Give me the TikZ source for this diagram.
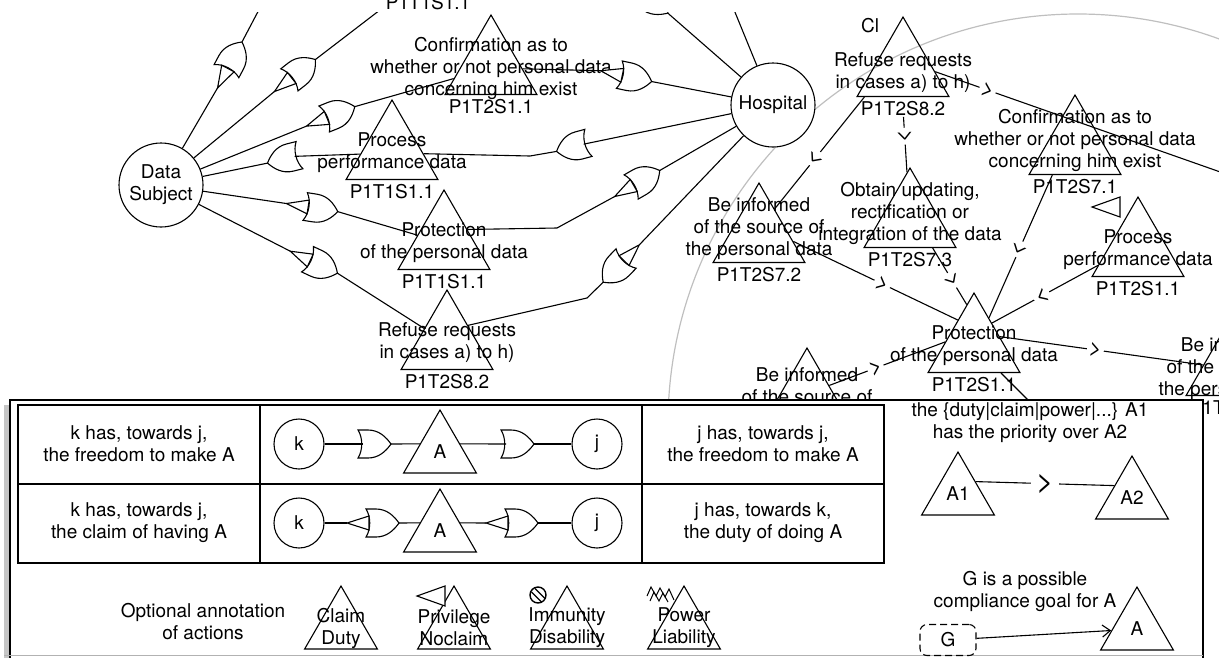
\documentclass[tikz,border=0pt]{standalone}
\usepackage{fontspec}
\setmainfont{TeX Gyre Heros}
\usetikzlibrary{shapes.geometric,arrows.meta}

\tikzset{
  actor/.style={circle,draw,fill=white,minimum size=84pt,inner sep=0pt,align=center},
  role/.style={circle,draw,fill=white,minimum size=50pt,inner sep=0pt},
  act/.style={regular polygon,regular polygon sides=3,draw,minimum size=106pt,inner sep=0pt},
  smallact/.style={act,minimum size=84pt},
  lbl/.style={align=center,inner sep=0pt},
  prio/.style={sloped,allow upside down,fill=white,inner sep=2pt,font=\fontsize{22}{22}\selectfont},
  orgate/.pic={
    \draw[fill=white] (-16,14) .. controls (-11,6) and (-11,-6) .. (-16,-14)
      -- (-6,-14) .. controls (5,-14) and (12,-7) .. (17,0)
      .. controls (12,7) and (5,14) .. (-6,14) -- cycle;
    \coordinate (-in) at (-11,0);
    \coordinate (-out) at (17,0);
  },
  claimgate/.pic={
    \draw[fill=white] (-16,14) .. controls (-11,6) and (-11,-6) .. (-16,-14)
      -- (-6,-14) .. controls (5,-14) and (12,-7) .. (17,0)
      .. controls (12,7) and (5,14) .. (-6,14) -- cycle;
    \draw[fill=white] (-13,7) -- (-13,-7) -- (-35,0) -- cycle;
    \coordinate (-in) at (-35,0);
    \coordinate (-out) at (17,0);
  },
  privmark/.pic={\draw[fill=white] (0,-10) -- (0,10) -- (-28,0) -- cycle;}
}

% action: triangle, its text and its id below
\newcommand\actnode[5][0pt]{%
  \node[act] (#2) at (#3) {};
  \node[lbl,yshift=#1] (#2-txt) at (#2.center) {#4};
  \node[lbl] (#2-id) at ([yshift=-39pt]#2.center) {#5};
}
\newcommand\legendact[3]{%
  \node[smallact] (#1) at (#2) {};
  \node[lbl] (#1-txt) at (#1.center) {#3};
}

\begin{document}
\begin{tikzpicture}[x=1pt,y=-1pt,line width=1.1pt,font=\fontsize{19}{22}\selectfont]
\useasboundingbox (0,0) rectangle (1219,657);

\node[lbl] (top-id) at (428,3) {P1T1S1.1};

\begin{scope}
\clip (0,12) rectangle (1219,657);
\draw[gray!50,line width=1.2pt] (1078,424) circle[radius=410pt];

\node[actor] (ds) at (161,185) {Data\\Subject};
\node[actor] (hosp) at (773,105) {Hospital};

% left part
\actnode{conf1}{491,68}{Confirmation as to\\whether or not personal data\\concerning him exist}{P1T2S1.1}
\actnode{proc1}{392,153}{Process\\performance data}{P1T1S1.1}
\actnode{prot1}{444,243}{Protection\\of the personal data}{P1T1S1.1}
\actnode{refuse1}{447,343}{Refuse requests\\in cases a) to h)}{P1T2S8.2}

\pic[rotate=62] (ga) at (234,57) {claimgate};
\pic[rotate=38] (gb) at (302,70) {claimgate};
\pic[rotate=22] (gc) at (339,113) {claimgate};
\pic[rotate=194] (gd) at (284,159) {orgate};
\pic[rotate=-9] (ge) at (321,209) {claimgate};
\pic[rotate=-25] (gf) at (322,266) {claimgate};
\pic[rotate=-12] (gg) at (635,78) {claimgate};
\pic[rotate=195] (gh) at (573,147) {orgate};
\pic[rotate=30] (gi) at (645,179) {claimgate};
\pic[rotate=226] (gj) at (615,270) {claimgate};
\pic[rotate=-41] (gk) at (655,2) {orgate};

\draw (ds) -- (ga-in);
\draw (ga-out) -- (262,4);
\draw (ds) -- (gb-in);
\draw (gb-out) -- (393,0);
\draw (ds) -- (gc-in);
\draw (gc-out) -- (conf1);
\draw (proc1) -- (gd-in);
\draw (gd-out) -- (ds);
\draw (ds) -- (ge-in);
\draw (ge-out) -- (prot1);
\draw (ds) -- (gf-in);
\draw (gf-out) -- (refuse1);

\draw (conf1) -- (gg-in);
\draw (gg-out) -- (hosp);
\draw (hosp) -- (gh-in);
\draw (gh-out) -- (530,156) -- (proc1);
\draw (prot1.30) -- (557,228) -- (gi-in);
\draw (gi-out) -- (hosp);
\draw (hosp) -- (gj-in);
\draw (gj-out) -- (587,298) -- (refuse1.40);
\draw (gk-out) -- (hosp);
\draw (hosp) -- (730,0);

% right part
\node (cl) at (870,26) {Cl};
\actnode[-3pt]{refuse2}{903,70}{Refuse requests\\in cases a) to h)}{P1T2S8.2}
\actnode[8pt]{conf2}{1075,148}{Confirmation as to\\whether or not personal data\\concerning him exist}{P1T2S7.1}
\actnode[8pt]{upd}{910,221}{Obtain updating,\\rectification or\\integration of the data}{P1T2S7.3}
\actnode[7pt]{inf1}{759,236}{Be informed\\of the source of\\the personal data}{P1T2S7.2}
\actnode{proc2}{1138,250}{Process\\performance data}{P1T2S1.1}
\actnode{prot2}{974,346}{Protection\\of the personal data}{P1T2S1.1}
\actnode[15pt]{inf2}{807,401}{Be informed\\of the source of}{}
\actnode{inf3}{1232,369}{Be informed\\of the source of\\the personal data}{P1T2S7.2}
\pic at (1120,207) {privmark};

\draw (refuse2.-3) -- node[prio,pos=.18]{>} (1226,174);
\draw (refuse2-id) -- node[prio,pos=.35]{>} (upd);
\draw (refuse2.-145) -- node[prio,pos=.55]{>} (inf1.60);
\draw (inf1.-9) -- node[prio,pos=.54]{>} (prot2.122);
\draw (upd.-50) -- node[prio,pos=.57]{>} (prot2.100);
\draw (conf2.-130) -- node[prio,pos=.52]{>} (prot2.62);
\draw (proc2.201) -- node[prio,pos=.53]{>} (prot2.52);
\draw (inf2.35) -- node[prio,pos=.4]{>} (prot2.172);
\draw (prot2.20) -- node[prio,pos=.47]{>} (inf3);
\draw (prot2) -- (1040,412);
\end{scope}

% legend
\fill[gray!45] (4,405) rectangle (1197,663);
\draw[fill=white] (10,400) rectangle (1203,660);
\draw[gray!60] (4,655.5) -- (1203,655.5);
\draw (18,405) rectangle (884,563);
\draw (18,484) -- (884,484);
\draw (260,405) -- (260,563);
\draw (642,405) -- (642,563);

\node[lbl] (row1-left) at (139,444) {k has, towards j,\\the freedom to make A};
\node[lbl] (row1-right) at (763,444) {j has, towards j,\\the freedom to make A};
\node[lbl] (row2-left) at (139,523) {k has, towards j,\\the claim of having A};
\node[lbl] (row2-right) at (763,523) {j has, towards k,\\the duty of doing A};

\node[role] (k1) at (299,444) {k};
\node[role] (j1) at (597,444) {j};
\legendact{a1}{440,452}{A}
\pic (lg1) at (374,444) {orgate};
\pic (lg2) at (517,444) {orgate};
\draw (k1) -- (lg1-in);
\draw (lg1-out) -- (a1.158);
\draw (a1.22) -- (lg2-in);
\draw (lg2-out) -- (j1);

\node[role] (k2) at (299,523) {k};
\node[role] (j2) at (597,523) {j};
\legendact{a2}{440,531}{A}
\pic (lc1) at (382,523) {claimgate};
\pic (lc2) at (521,523) {claimgate};
\draw (k2) -- (lc1-in);
\draw (lc1-out) -- (a2.158);
\draw (a2.22) -- (lc2-in);
\draw (lc2-out) -- (j2);

\node[lbl] (ann) at (203,622) {Optional annotation\\of actions};
\legendact{claim}{341,628}{Claim\\Duty}
\legendact{priv}{454,628}{Privilege\\Noclaim}
\legendact{immu}{567,628}{Immunity\\Disability}
\legendact{power}{684,628}{Power\\Liability}
\pic at (445,596) {privmark};
\draw[line width=1.4pt] (538,595) circle[radius=8pt];
\draw[line width=1.2pt] (535,588.5) -- (545,598.5) (531.5,592) -- (541.5,602);
\draw[line width=1pt] (647,596) -- (651,587) -- (656,596) -- (660,588) -- (665,597) -- (669,589) -- (674,600)
  (650,601) -- (654,592) -- (659,601) -- (663,593) -- (668,602);

\node[lbl] (prio-txt) at (1030,423) {the \{duty|claim|power|...\} A1\\has the priority over A2};
\legendact{pa1}{958,494}{A1}
\legendact{pa2}{1132,498}{A2}
\draw (pa1.35) -- node[fill=white,inner sep=5pt,font=\fontsize{30}{30}\selectfont]{>} (pa2.145);

\node[lbl] (goal-txt) at (1025,591) {G is a possible\\compliance goal for A};
\node[draw,dashed,dash pattern=on 7pt off 4pt,rounded corners=7pt,minimum width=56pt,minimum height=31pt] (goal) at (948,640) {G};
\legendact{pa3}{1137,629}{A}
\draw[-{Straight Barb[length=8pt,width=12pt]}] (goal) -- (pa3);
\end{tikzpicture}
\end{document}
